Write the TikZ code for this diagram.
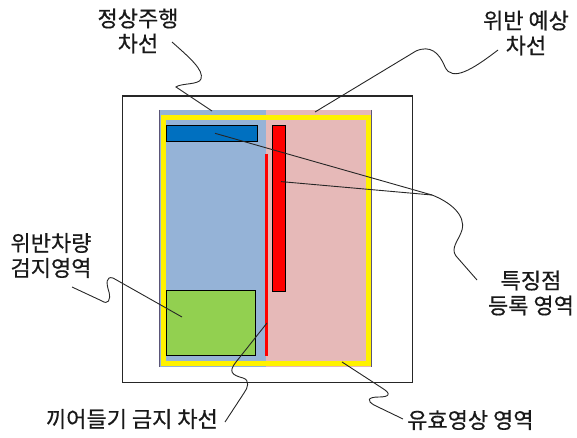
\documentclass[tikz,border=0pt]{standalone}
\usepackage{fontspec}
\setmainfont[FakeBold=0.5]{Noto Sans CJK KR}
\definecolor{laneblue}{HTML}{95B3D7}
\definecolor{lanepink}{HTML}{E6B9B8}
\definecolor{barblue}{HTML}{0070C0}
\definecolor{zonegreen}{HTML}{92D050}
\definecolor{edgeline}{HTML}{5A5578}
\begin{document}
\begin{tikzpicture}[x=1pt,y=-1pt,
  leader/.style={draw=black!85, line width=0.9pt},
  lbl/.style={font=\fontsize{22}{25}\selectfont, align=center, inner sep=0pt, text=black!90},
  area/.style={rectangle, inner sep=0pt, outer sep=0pt, anchor=north west},
  boxed/.style={area, draw=black, line width=0.9pt}]
\useasboundingbox (0,0) rectangle (577,438);
% outer frame
\node[area, draw=black!85, line width=1.1pt, minimum width=290pt, minimum height=286.7pt] (frame) at (122.7,96) {};
% lanes
\node[area, fill=laneblue, minimum width=107pt, minimum height=257pt] (normlane) at (159,110) {};
\node[area, fill=lanepink, minimum width=106pt, minimum height=257pt] (violane) at (266,110) {};
\draw[edgeline, line width=1.3pt] (159.6,110) -- (159.6,367);
\draw[edgeline, line width=1.3pt] (371.4,110) -- (371.4,367);
% valid image area (yellow)
\node[area, draw=yellow, line width=5pt, minimum width=205pt, minimum height=245.5pt] (valid) at (163,117.5) {};
% feature registration areas
\node[boxed, fill=barblue, minimum width=91pt, minimum height=16.7pt] (bluebar) at (166.7,125) {};
\node[boxed, fill=red, minimum width=12.7pt, minimum height=166.7pt] (redbar) at (272.3,125) {};
% no cut-in line
\node[area, fill=red, minimum width=3.6pt, minimum height=201.5pt] (cutline) at (264.5,154.3) {};
% violation detection area
\node[boxed, fill=zonegreen, minimum width=88.6pt, minimum height=64.3pt] (green) at (166.7,290.7) {};

% labels
\node[lbl] (tnorm) at (138,31) {정상주행\\차선};
\node[lbl] (tviol) at (526,33) {위반 예상\\차선};
\node[lbl] (tdet) at (51,255.5) {위반차량\\검지영역};
\node[lbl] (tfeat) at (531,293) {특징점\\등록 영역};
\node[lbl, anchor=east] (tcut) at (218,419) {끼어들기 금지 차선};
\node[lbl, anchor=west] (tvalid) at (407,420) {유효영상 영역};

% leader end points
\coordinate (pnorm) at (212,111);
\coordinate (pviol) at (315,112);
\coordinate (pblue) at (215,133.3);
\coordinate (pred) at (281,181.6);
\coordinate (conv) at (432,195);
\coordinate (pgreen) at (182,317);
\coordinate (pcut) at (267,323);
\coordinate (pvalid) at (342,362);
\coordinate (snorm) at (172,42);
\coordinate (sviol) at (498,50);
\coordinate (sfeat) at (477,280);
\coordinate (sdet) at (72,287);
\coordinate (scut) at (225,422);
\coordinate (svalid) at (403,419);

% leaders
\draw[leader] (snorm) .. controls (190,58) and (204,70) .. (201,79) .. controls (199,85) and (181,83) .. (176,87) -- (pnorm);
\draw[leader] (sviol) .. controls (472,70) and (452,82) .. (445,67) .. controls (439,52) and (430,45) .. (416,51) -- (pviol);
\draw[leader] (pblue) -- (conv);
\draw[leader] (pred) -- (conv);
\draw[leader] (conv) .. controls (450,202) and (466,215) .. (462,230) .. controls (459,240) and (450,248) .. (456,256) -- (sfeat);
\draw[leader] (sdet) -- (102,301) .. controls (108,305) and (111,300) .. (109,292) .. controls (106,283) and (106,276) .. (113,278) -- (pgreen);
\draw[leader] (pcut) -- (236,362) .. controls (228,372) and (232,375) .. (243,378) .. controls (250,380) and (248,388) .. (244,393) -- (scut);
\draw[leader] (pvalid) -- (382,388) .. controls (392,394) and (389,397) .. (379,397) .. controls (367,397) and (367,401) .. (374,405) -- (svalid);
\end{tikzpicture}
\end{document}
